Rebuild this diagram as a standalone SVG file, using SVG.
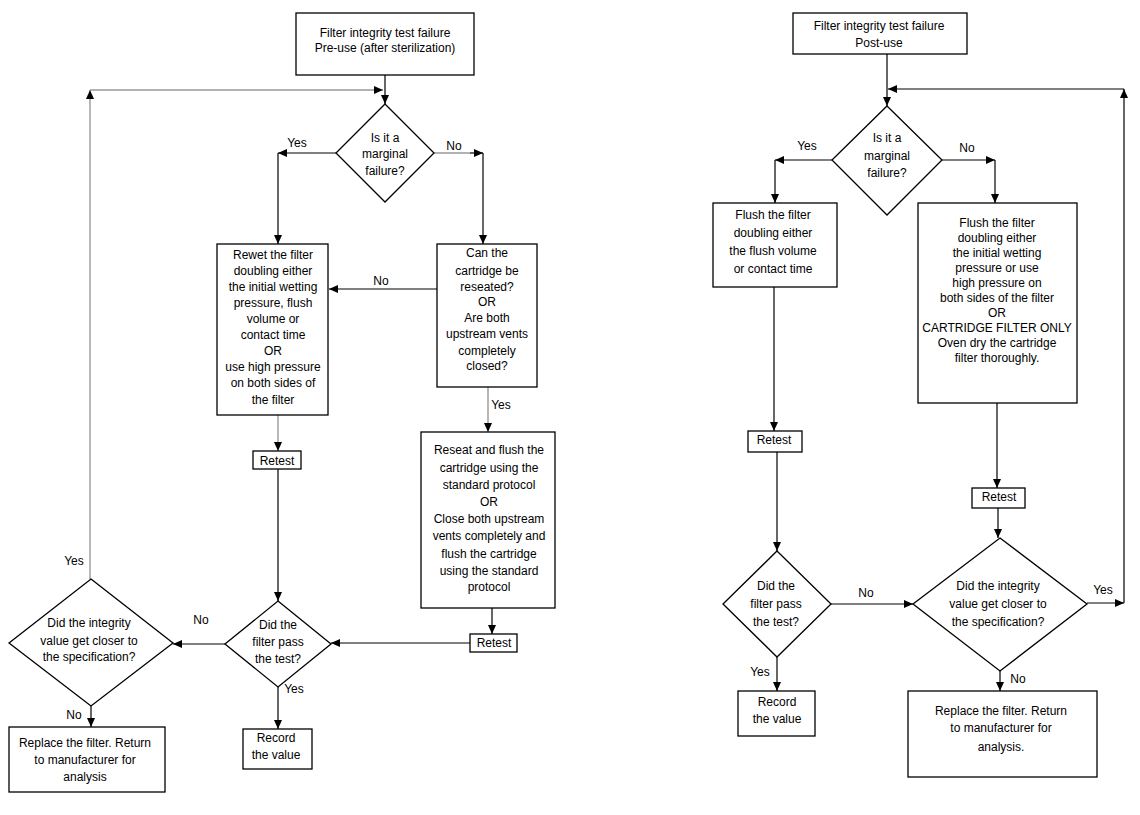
<svg xmlns="http://www.w3.org/2000/svg" width="1140" height="815" viewBox="0 0 1140 815">
<style>
.box{fill:#fff;stroke:#000;stroke-width:1.3}
.t{font-family:"Liberation Sans",Arial,sans-serif;font-size:12px;fill:#000;text-anchor:middle}
.c{fill:none;stroke:#000;stroke-width:1.2}
.g{fill:none;stroke:#999;stroke-width:1.4}
.a{marker-end:url(#ah)}
</style>
<defs>
<marker id="ah" markerUnits="userSpaceOnUse" markerWidth="9" markerHeight="8" refX="9" refY="4" orient="auto">
<path d="M0,0 L9,4 L0,8 z" fill="#000"/>
</marker>
</defs>
<rect width="1140" height="815" fill="#fff"/>
<g id="connectors">
<path class="c a" d="M385,75 V104"/>
<path class="g a" d="M90,579 V90"/>
<path class="g a" d="M90,90 H383"/>
<path class="c a" d="M336,153 H278"/>
<path class="c a" d="M278,153 V244"/>
<path class="g" d="M434,153 H470"/>
<path class="c a" d="M470,153 H483"/>
<path class="c a" d="M483,153 V244"/>
<path class="c a" d="M437,289 H329"/>
<path class="g a" d="M488,387 V432"/>
<path class="g a" d="M278,415 V451"/>
<path class="c a" d="M278,469 V601"/>
<path class="c a" d="M492,608 V634"/>
<path class="c a" d="M470,643 H331"/>
<path class="c a" d="M225,644 H173"/>
<path class="c a" d="M91,706 V727"/>
<path class="c a" d="M278,687 V729"/>
<path class="c a" d="M887,54 V106"/>
<path class="c a" d="M1124,603 V89"/>
<path class="c a" d="M1124,89 H888"/>
<path class="c a" d="M832,160 H775"/>
<path class="c a" d="M775,160 V203"/>
<path class="c a" d="M942,160 H995"/>
<path class="c a" d="M995,160 V203"/>
<path class="c a" d="M774,287 V431"/>
<path class="c a" d="M997,403 V488"/>
<path class="c a" d="M998,508 V538"/>
<path class="c a" d="M777,452 V551"/>
<path class="c a" d="M831,604 H913"/>
<path class="c a" d="M1087,603 H1124"/>
<path class="c a" d="M1000,671 V691"/>
<path class="c a" d="M777,657 V691"/>
<text class="t" x="297" y="147">Yes</text>
<text class="t" x="454" y="150">No</text>
<text class="t" x="381" y="285">No</text>
<text class="t" x="501" y="409">Yes</text>
<text class="t" x="201" y="624">No</text>
<text class="t" x="74" y="565">Yes</text>
<text class="t" x="74" y="719">No</text>
<text class="t" x="294" y="693">Yes</text>
<text class="t" x="807" y="150">Yes</text>
<text class="t" x="967" y="152">No</text>
<text class="t" x="866" y="597">No</text>
<text class="t" x="1103" y="594">Yes</text>
<text class="t" x="1018" y="683">No</text>
<text class="t" x="760" y="676">Yes</text>
</g>
<g id="L_start">
<rect class="box" x="296" y="13" width="178" height="62"/>
<text class="t" x="385" y="37">Filter integrity test failure</text>
<text class="t" x="385" y="52">Pre-use (after sterilization)</text>
</g>
<g id="L_marginal">
<polygon class="box" points="385,104 434,153 385,202 336,153"/>
<text class="t" x="385" y="142">Is it a</text>
<text class="t" x="385" y="158">marginal</text>
<text class="t" x="385" y="175">failure?</text>
</g>
<g id="L_rewet">
<rect class="box" x="217" y="244" width="111" height="171"/>
<text class="t" x="273" y="259">Rewet the filter</text>
<text class="t" x="273" y="275">doubling either</text>
<text class="t" x="273" y="291">the initial wetting</text>
<text class="t" x="273" y="307">pressure, flush</text>
<text class="t" x="273" y="323">volume or</text>
<text class="t" x="273" y="339">contact time</text>
<text class="t" x="273" y="355">OR</text>
<text class="t" x="273" y="371">use high pressure</text>
<text class="t" x="273" y="387">on both sides of</text>
<text class="t" x="273" y="404">the filter</text>
</g>
<g id="L_reseatq">
<rect class="box" x="437" y="244" width="100" height="143"/>
<text class="t" x="487" y="257">Can the</text>
<text class="t" x="487" y="275">cartridge be</text>
<text class="t" x="487" y="291">reseated?</text>
<text class="t" x="487" y="306">OR</text>
<text class="t" x="487" y="322">Are both</text>
<text class="t" x="487" y="338">upstream vents</text>
<text class="t" x="487" y="355">completely</text>
<text class="t" x="487" y="370">closed?</text>
</g>
<g id="L_reseat">
<rect class="box" x="421" y="432" width="134" height="176"/>
<text class="t" x="489" y="454">Reseat and flush the</text>
<text class="t" x="489" y="472">cartridge using the</text>
<text class="t" x="489" y="489">standard protocol</text>
<text class="t" x="489" y="506">OR</text>
<text class="t" x="489" y="523">Close both upstream</text>
<text class="t" x="489" y="540">vents completely and</text>
<text class="t" x="489" y="558">flush the cartridge</text>
<text class="t" x="489" y="575">using the standard</text>
<text class="t" x="489" y="591">protocol</text>
</g>
<g id="L_retest1">
<rect class="box" x="253" y="451" width="48" height="18"/>
<text class="t" x="277" y="465">Retest</text>
</g>
<g id="L_retest2">
<rect class="box" x="470" y="634" width="47" height="18"/>
<text class="t" x="494" y="647">Retest</text>
</g>
<g id="L_pass">
<polygon class="box" points="278,601 331,644 278,687 225,644"/>
<text class="t" x="278" y="629">Did the</text>
<text class="t" x="278" y="646">filter pass</text>
<text class="t" x="278" y="663">the test?</text>
</g>
<g id="L_closer">
<polygon class="box" points="91,579 173,643 91,706 9,643"/>
<text class="t" x="89" y="627">Did the integrity</text>
<text class="t" x="89" y="645">value get closer to</text>
<text class="t" x="89" y="661">the specification?</text>
</g>
<g id="L_replace">
<rect class="box" x="9" y="727" width="156" height="65"/>
<text class="t" x="85" y="747">Replace the filter. Return</text>
<text class="t" x="85" y="764">to manufacturer for</text>
<text class="t" x="85" y="781">analysis</text>
</g>
<g id="L_record">
<rect class="box" x="243" y="729" width="69" height="40"/>
<text class="t" x="276" y="742">Record</text>
<text class="t" x="276" y="759">the value</text>
</g>
<g id="R_start">
<rect class="box" x="793" y="13" width="174" height="41"/>
<text class="t" x="879" y="30">Filter integrity test failure</text>
<text class="t" x="879" y="47">Post-use</text>
</g>
<g id="R_marginal">
<polygon class="box" points="887,106 942,160 887,215 832,160"/>
<text class="t" x="887" y="142">Is it a</text>
<text class="t" x="887" y="160">marginal</text>
<text class="t" x="887" y="177">failure?</text>
</g>
<g id="R_flush">
<rect class="box" x="713" y="203" width="124" height="84"/>
<text class="t" x="773" y="219">Flush the filter</text>
<text class="t" x="773" y="237">doubling either</text>
<text class="t" x="773" y="255">the flush volume</text>
<text class="t" x="773" y="273">or contact time</text>
</g>
<g id="R_flush2">
<rect class="box" x="918" y="203" width="159" height="200"/>
<text class="t" x="997" y="227">Flush the filter</text>
<text class="t" x="997" y="242">doubling either</text>
<text class="t" x="997" y="257">the initial wetting</text>
<text class="t" x="997" y="272">pressure or use</text>
<text class="t" x="997" y="287">high pressure on</text>
<text class="t" x="997" y="302">both sides of the filter</text>
<text class="t" x="997" y="317">OR</text>
<text class="t" x="997" y="332">CARTRIDGE FILTER ONLY</text>
<text class="t" x="997" y="347">Oven dry the cartridge</text>
<text class="t" x="997" y="362">filter thoroughly.</text>
</g>
<g id="R_retest1">
<rect class="box" x="748" y="431" width="54" height="21"/>
<text class="t" x="774" y="444">Retest</text>
</g>
<g id="R_retest2">
<rect class="box" x="972" y="488" width="53" height="20"/>
<text class="t" x="999" y="501">Retest</text>
</g>
<g id="R_pass">
<polygon class="box" points="777,551 831,604 777,657 723,604"/>
<text class="t" x="776" y="590">Did the</text>
<text class="t" x="776" y="608">filter pass</text>
<text class="t" x="776" y="626">the test?</text>
</g>
<g id="R_closer">
<polygon class="box" points="1000,538 1087,604 1000,671 913,604"/>
<text class="t" x="998" y="590">Did the integrity</text>
<text class="t" x="998" y="608">value get closer to</text>
<text class="t" x="998" y="626">the specification?</text>
</g>
<g id="R_record">
<rect class="box" x="738" y="691" width="77" height="45"/>
<text class="t" x="777" y="706">Record</text>
<text class="t" x="777" y="723">the value</text>
</g>
<g id="R_replace">
<rect class="box" x="908" y="691" width="189" height="86"/>
<text class="t" x="1001" y="715">Replace the filter. Return</text>
<text class="t" x="1001" y="732">to manufacturer for</text>
<text class="t" x="1001" y="751">analysis.</text>
</g>
</svg>
